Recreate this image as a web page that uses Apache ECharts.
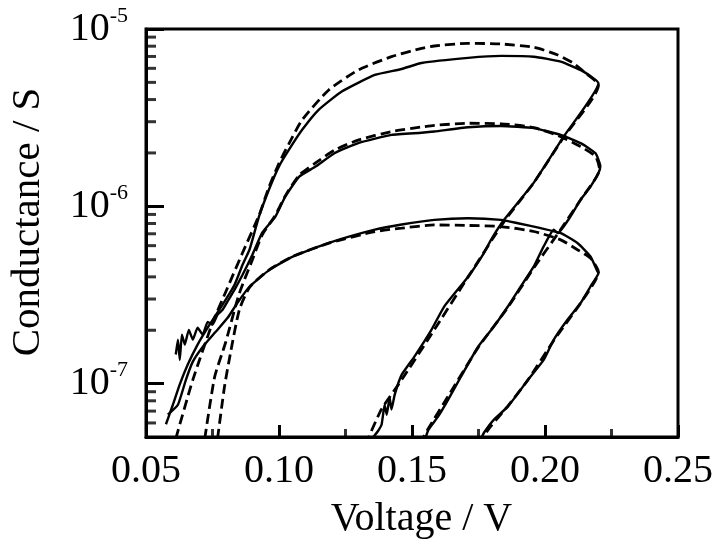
<!DOCTYPE html>
<html>
<head>
<meta charset="utf-8">
<script src="https://cdn.jsdelivr.net/npm/echarts@6.0.0/dist/echarts.min.js"></script>
<style>
html,body{margin:0;padding:0;background:#fff;}
#chart{width:720px;height:546px;}
</style>
</head>
<body>
<div id="chart"></div>
<script>
// ---- data: [voltage (V), conductance (S)] ----
const measuredA = [
  [0.0575,5.9e-8],[0.0601,7.6e-8],[0.0627,9.9e-8],[0.0657,1.28e-7],[0.0694,1.66e-7],[0.0739,2.15e-7],
  [0.0788,2.79e-7],[0.0833,3.61e-7],[0.0863,4.68e-7],[0.0889,5.69e-7],[0.0900,6.47e-7],[0.0925,8.77e-7],
  [0.0962,1.24e-6],[0.1000,1.68e-6],[0.1037,2.08e-6],[0.1087,2.70e-6],[0.1149,3.50e-6],[0.1236,4.44e-6],
  [0.1360,5.51e-6],[0.1461,5.95e-6],[0.1536,6.43e-6],[0.1711,6.87e-6],[0.1835,7.05e-6],[0.1958,6.98e-6],
  [0.2059,6.54e-6],[0.2145,5.75e-6],[0.2201,4.94e-6],
  [0.2070,2.47e-6],[0.1958,1.36e-6],[0.1846,8.39e-7],[0.1797,6.47e-7],[0.1771,5.47e-7],[0.1711,4.01e-7],
  [0.1621,2.72e-7],[0.1573,2.01e-7],[0.1509,1.42e-7],[0.1461,1.12e-7],[0.1435,8.67e-8],[0.1423,7.15e-8],
  [0.1416,8.33e-8],[0.1405,6.68e-8],[0.1397,7.6e-8],[0.1386,5.9e-8],[0.1371,5.37e-8],[0.1350,4.9e-8]
];
const measuredB = [
  [0.0612,1.46e-7],[0.0620,1.77e-7],[0.0627,1.36e-7],[0.0635,1.89e-7],[0.0646,1.66e-7],[0.0661,2.01e-7],
  [0.0676,1.77e-7],[0.0694,2.07e-7],[0.0713,1.89e-7],[0.0732,2.23e-7],[0.0750,2.15e-7],[0.0769,2.45e-7],
  [0.0788,2.61e-7],[0.0810,2.97e-7],[0.0833,3.39e-7],[0.0863,4.11e-7],[0.0900,5.33e-7],[0.0937,7.1e-7],
  [0.0986,8.73e-7],[0.1023,1.13e-6],[0.1076,1.47e-6],[0.1136,1.67e-6],[0.1210,2.0e-6],[0.1300,2.28e-6],
  [0.1423,2.53e-6],[0.1536,2.60e-6],[0.1584,2.64e-6],[0.1711,2.79e-6],[0.1835,2.84e-6],[0.1958,2.76e-6],
  [0.2059,2.53e-6],[0.2134,2.27e-6],[0.2190,1.99e-6],[0.2208,1.68e-6],[0.2201,1.54e-6],
  [0.2171,1.29e-6],[0.2134,1.09e-6],[0.2096,8.77e-7],[0.2048,7.06e-7],[0.2033,7.38e-7],[0.1995,5.94e-7],
  [0.1958,4.58e-7],[0.1909,3.53e-7],[0.1861,2.73e-7],[0.1808,2.10e-7],[0.1749,1.62e-7],[0.1685,1.10e-7],
  [0.1636,8.13e-8],[0.1599,6.55e-8],[0.1562,5.5e-8],[0.1550,4.9e-8]
];
const measuredC = [
  [0.0582,6.68e-8],[0.0620,7.6e-8],[0.0650,1.05e-7],[0.0676,1.33e-7],[0.0713,1.61e-7],[0.0762,1.96e-7],
  [0.0807,2.35e-7],[0.0844,2.86e-7],[0.0889,3.52e-7],[0.0964,4.38e-7],[0.1050,5.19e-7],[0.1188,6.22e-7],
  [0.1360,7.38e-7],[0.1461,7.9e-7],[0.1584,8.39e-7],[0.1711,8.57e-7],[0.1835,8.39e-7],[0.1898,8.03e-7],
  [0.1984,7.53e-7],[0.2059,7.06e-7],[0.2122,6.21e-7],[0.2171,5.21e-7],[0.2197,4.30e-7],[0.2201,4.2e-7],
  [0.2171,3.53e-7],[0.2134,2.85e-7],[0.2085,2.30e-7],[0.2033,1.77e-7],[0.1995,1.36e-7],[0.1936,1.05e-7],
  [0.1861,7.44e-8],[0.1808,6.27e-8],[0.1771,5.3e-8],[0.1760,4.9e-8]
];
const fitA = [
  [0.0612,4.9e-8],[0.0676,1.05e-7],[0.0750,2.2e-7],[0.0800,3.3e-7],[0.0863,5.47e-7],[0.0925,8.9e-7],
  [0.0962,1.28e-6],[0.1000,1.75e-6],[0.1037,2.25e-6],[0.1087,3.07e-6],[0.1187,4.53e-6],[0.1299,5.88e-6],
  [0.1423,6.98e-6],[0.1536,7.78e-6],[0.1584,8.02e-6],[0.1711,8.3e-6],[0.1835,8.23e-6],[0.1958,7.88e-6],
  [0.2048,7.14e-6],[0.2107,6.41e-6],[0.2152,5.65e-6],[0.2201,4.83e-6],
  [0.2070,2.45e-6],[0.1958,1.36e-6],[0.1846,8.2e-7],[0.1711,4.0e-7],[0.1573,1.9e-7],[0.1461,1.05e-7],
  [0.1386,7.2e-8],[0.1335,4.9e-8]
];
const fitB = [
  [0.0721,4.9e-8],[0.0758,1.09e-7],[0.0799,1.7e-7],[0.0850,3.2e-7],[0.0900,5.0e-7],[0.0937,6.9e-7],
  [0.0986,8.9e-7],[0.1023,1.14e-6],[0.1076,1.5e-6],[0.1136,1.75e-6],[0.1210,2.08e-6],[0.1300,2.37e-6],
  [0.1423,2.64e-6],[0.1536,2.80e-6],[0.1584,2.86e-6],[0.1711,2.94e-6],[0.1835,2.92e-6],[0.1958,2.78e-6],
  [0.2059,2.47e-6],[0.2134,2.17e-6],[0.2190,1.91e-6],[0.2205,1.62e-6],
  [0.2134,1.09e-6],[0.2048,7.0e-7],[0.1958,4.5e-7],[0.1861,2.7e-7],[0.1749,1.6e-7],[0.1636,8.5e-8],
  [0.1562,5.6e-8],[0.1540,4.9e-8]
];
const fitC = [
  [0.0769,4.9e-8],[0.0795,9.6e-8],[0.0818,1.5e-7],[0.0851,2.61e-7],[0.0890,3.5e-7],[0.0964,4.4e-7],
  [0.1050,5.2e-7],[0.1188,6.2e-7],[0.1360,7.2e-7],[0.1461,7.53e-7],[0.1584,7.85e-7],[0.1711,7.8e-7],
  [0.1835,7.69e-7],[0.1958,7.21e-7],[0.2059,6.47e-7],[0.2122,5.69e-7],[0.2171,5.1e-7],[0.2201,4.25e-7],
  [0.2134,2.85e-7],[0.2033,1.75e-7],[0.1936,1.05e-7],[0.1861,7.5e-8],[0.1790,5.6e-8],[0.1765,4.9e-8]
];
const yMinorTickValues = [6e-8,7e-8,8e-8,9e-8,2e-7,3e-7,4e-7,5e-7,6e-7,7e-7,8e-7,9e-7,
  2e-6,3e-6,4e-6,5e-6,6e-6,7e-6,8e-6,9e-6];
const xMinorTickValues = [0.075,0.125,0.175,0.225];
const xName = 'Voltage / V';
const yName = 'Conductance / S';
const X_MIN = 0.05, X_MAX = 0.25, Y_MIN = 5e-8, Y_MAX = 1e-5;

const FONT = '"Liberation Serif","Times New Roman",serif';
const TICK = '#000';
const chart = echarts.init(document.getElementById('chart'));

function solid(name, data){
  return {name, type:'line', data, showSymbol:false, symbol:'none', smooth:0.15,
    lineStyle:{color:'#000', width:2.4}, itemStyle:{color:'#000'}};
}
function dashed(name, data){
  return {name, type:'line', data, showSymbol:false, symbol:'none', smooth:0.2,
    lineStyle:{color:'#000', width:2.8, type:[10,5]}, itemStyle:{color:'#000'}};
}
function minorTicks(name, data, size, offset){
  return {name, type:'scatter', data, clip:false, symbol:'rect', symbolSize:size, symbolOffset:offset,
    itemStyle:{color:TICK}};
}

chart.setOption({
  backgroundColor:'#fff',
  animation:false,
  grid:{left:143, right:42, top:29, bottom:109, show:true, borderColor:'#000', borderWidth:3},
  xAxis:{
    type:'value', min:X_MIN, max:X_MAX, interval:0.05,
    name:xName, nameLocation:'middle', nameGap:62,
    nameTextStyle:{fontFamily:FONT, fontSize:40, color:'#000', padding:[0,0,0,19]},
    axisLine:{show:true, lineStyle:{color:'#000', width:3}},
    axisTick:{show:true, inside:true, length:12, lineStyle:{color:TICK, width:3}},
    minorTick:{show:false},
    axisLabel:{fontFamily:FONT, fontSize:40, color:'#000', margin:14, formatter:v=>v.toFixed(2)},
    splitLine:{show:false}
  },
  yAxis:{
    type:'log', logBase:10, min:Y_MIN, max:Y_MAX,
    name:yName, nameLocation:'middle', nameGap:97,
    nameTextStyle:{fontFamily:FONT, fontSize:41, color:'#000', padding:[0,0,0,22]},
    axisLine:{show:true, lineStyle:{color:'#000', width:3}},
    axisTick:{show:true, inside:true, length:18, lineStyle:{color:TICK, width:3}},
    axisLabel:{margin:18, color:'#000',
      formatter:function(v){
        const e = Math.log10(v); const r = Math.round(e);
        if (Math.abs(e-r) > 1e-6) return '';
        return '{b|10}{s|' + r + '}';
      },
      rich:{
        b:{fontFamily:FONT, fontSize:40, color:'#000'},
        s:{fontFamily:FONT, fontSize:22, color:'#000', padding:[0,0,26,0]}
      }
    },
    splitLine:{show:false}
  },
  series:[
    solid('Measured A', measuredA),
    solid('Measured B', measuredB),
    solid('Measured C', measuredC),
    dashed('Fit A', fitA),
    dashed('Fit B', fitB),
    dashed('Fit C', fitC),
    minorTicks('y minor ticks', yMinorTickValues.map(v=>[X_MIN, v]), [10, 3], [5, 0]),
    minorTicks('x minor ticks', xMinorTickValues.map(v=>[v, Y_MIN]), [3, 8], [0, -4])
  ]
});
</script>
</body>
</html>
